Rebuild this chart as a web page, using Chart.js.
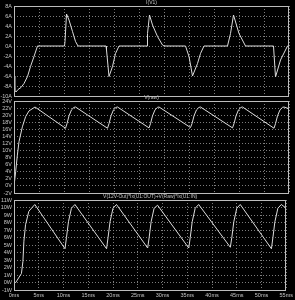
<!DOCTYPE html>
<html>
<head>
<meta charset="utf-8">
<script src="https://cdn.jsdelivr.net/npm/chart.js@4/dist/chart.umd.min.js"></script>
<style>
body{margin:0;background:#000;}
#wrap{position:relative;width:295px;height:300px;}
canvas{position:absolute;left:0;top:0;}
</style>
</head>
<body>
<div id="wrap">
<canvas id="c1" width="295" height="300"></canvas>
<canvas id="c2" width="295" height="300"></canvas>
<canvas id="c3" width="295" height="300"></canvas>
</div>
<script>
// I(V1)
const timeI=[0,0.15,0.4,0.8,1.4,2.0,2.7,3.3,4.0,4.7,
  10.1,10.2,10.5,11.0,11.7,12.3,12.8,
  18.4,18.5,19.0,19.7,20.3,21.0,
  26.6,26.7,27.1,27.7,28.7,29.7,30.0,
  34.3,35.0,35.7,36.7,37.3,38.0,
  42.7,43.3,43.9,45.0,46.3,
  51.9,52.3,53.3,54.7,55];
const currentV1=[-6,-8.8,-9.2,-8.7,-8.3,-7.5,-6.1,-4.1,-2.1,0,
  0,0.9,6.4,5.2,2.9,0.9,0,
  0,-0.8,-6.1,-4.1,-1.5,0,
  0,2.5,6.2,4.2,1.9,0.2,0,
  0,-2.1,-6.0,-3.5,-1.5,0,
  0,2.5,6.2,2.5,0,
  0,-6.2,-2.8,0,0];

// V(raw)
const timeRaw=[0,0.33,0.67,1.0,1.67,2.33,3.0,4.2,
  10.3,10.6,11.0,11.5,12.0,12.3,
  18.7,19.0,19.4,19.9,20.4,20.7,
  27.0,27.3,27.7,28.2,28.7,29.0,
  35.3,35.6,36.0,36.5,37.0,37.3,
  43.7,44.0,44.4,44.9,45.4,45.7,
  52.0,52.3,52.7,53.2,53.7,54.0,55];
const voltRaw=[0,4,8.7,12.5,16.7,19.6,21.2,22.3,
  16.3,17.6,19.8,21.5,22.2,22.3,
  16.3,17.6,19.8,21.5,22.2,22.3,
  16.4,17.6,19.8,21.5,22.2,22.3,
  16.5,17.6,19.8,21.5,22.2,22.3,
  16.4,17.6,19.8,21.5,22.2,22.3,
  16.3,17.6,19.8,21.5,22.2,22.3,21.8];

// V(12V-Out)*Ix(U1:OUT)+V(Raw)*Ix(U1:IN)
const timePow=[0,0.35,1.5,1.8,2.0,2.33,3.0,4.2,
  10.3,10.6,11.0,11.6,12.3,
  18.7,19.0,19.4,20.0,20.7,
  27.0,27.3,27.7,28.3,29.0,
  35.3,35.6,36.0,36.6,37.3,
  43.7,44.0,44.4,45.0,45.7,
  52.0,52.3,52.7,53.3,54.0,55];
const powerOut=[0,0,1.2,2.8,5.5,7.7,9.5,10.4,
  4.5,6.0,8.1,9.9,10.4,
  4.5,6.0,8.1,9.9,10.4,
  4.6,6.0,8.1,9.9,10.3,
  4.6,6.0,8.1,9.9,10.4,
  4.7,6.0,8.1,9.9,10.4,
  4.5,6.0,8.1,9.9,10.4,9.9];

const textColor='#c4c4c4';
const fontSpec={family:'Liberation Sans, Arial, sans-serif',size:5.5};

function points(xs,ys){
    return xs.map((x,i)=>({x:x,y:ys[i]}));
}

// frame + pane title
const framePlugin={
    id:'frame',
    afterDraw(chart,args,opts){
        const a=chart.chartArea;
        const ctx=chart.ctx;
        ctx.save();
        ctx.strokeStyle='#bcbcbc';
        ctx.lineWidth=1;
        ctx.strokeRect(Math.round(a.left)+0.5,Math.round(a.top)+0.5,Math.round(a.right-a.left)-1,Math.round(a.bottom-a.top));
        ctx.fillStyle=textColor;
        ctx.font='5px Liberation Sans, Arial, sans-serif';
        ctx.textAlign='center';
        ctx.textBaseline='middle';
        ctx.fillText(opts.text,(a.left+a.right)/2,a.top-3);
        ctx.restore();
    }
};

function makePane(id,xs,ys,title,min,max,step,unit,pad,showX){
    new Chart(document.getElementById(id),{
        type:'line',
        data:{datasets:[{
            data:points(xs,ys),
            borderColor:'#dcdcdc',
            borderWidth:1,
            pointRadius:0,
            tension:0
        }]},
        options:{
            responsive:false,
            animation:false,
            layout:{padding:pad},
            plugins:{legend:{display:false},tooltip:{enabled:false},frame:{text:title}},
            scales:{
                x:{
                    type:'linear',min:0,max:55,
                    grid:{color:'#7c7c7c',drawTicks:false},
                    border:{display:false,dash:[1,2]},
                    ticks:{display:showX,stepSize:5,color:textColor,font:fontSpec,padding:2,maxRotation:0,autoSkip:false,
                        callback:v=>v+'ms'},
                    afterFit:s=>{s.height=showX?10:0;}
                },
                y:{
                    min:min,max:max,
                    grid:{color:'#7c7c7c',drawTicks:false},
                    border:{display:false,dash:[1,2]},
                    ticks:{stepSize:step,color:textColor,font:fontSpec,padding:2,autoSkip:false,
                        callback:v=>v+unit},
                    afterFit:s=>{s.width=14;}
                }
            }
        },
        plugins:[framePlugin]
    });
}

makePane('c1',timeI,currentV1,'I(V1)',-10,8,2,'A',{top:6,bottom:204,left:0,right:6},false);
makePane('c2',timeRaw,voltRaw,'V(raw)',-2,24,2,'V',{top:101,bottom:107,left:0,right:6},false);
makePane('c3',timePow,powerOut,'V(12V-Out)*Ix(U1:OUT)+V(Raw)*Ix(U1:IN)',-1,11,1,'W',{top:200,bottom:0,left:0,right:6},true);
</script>
</body>
</html>
